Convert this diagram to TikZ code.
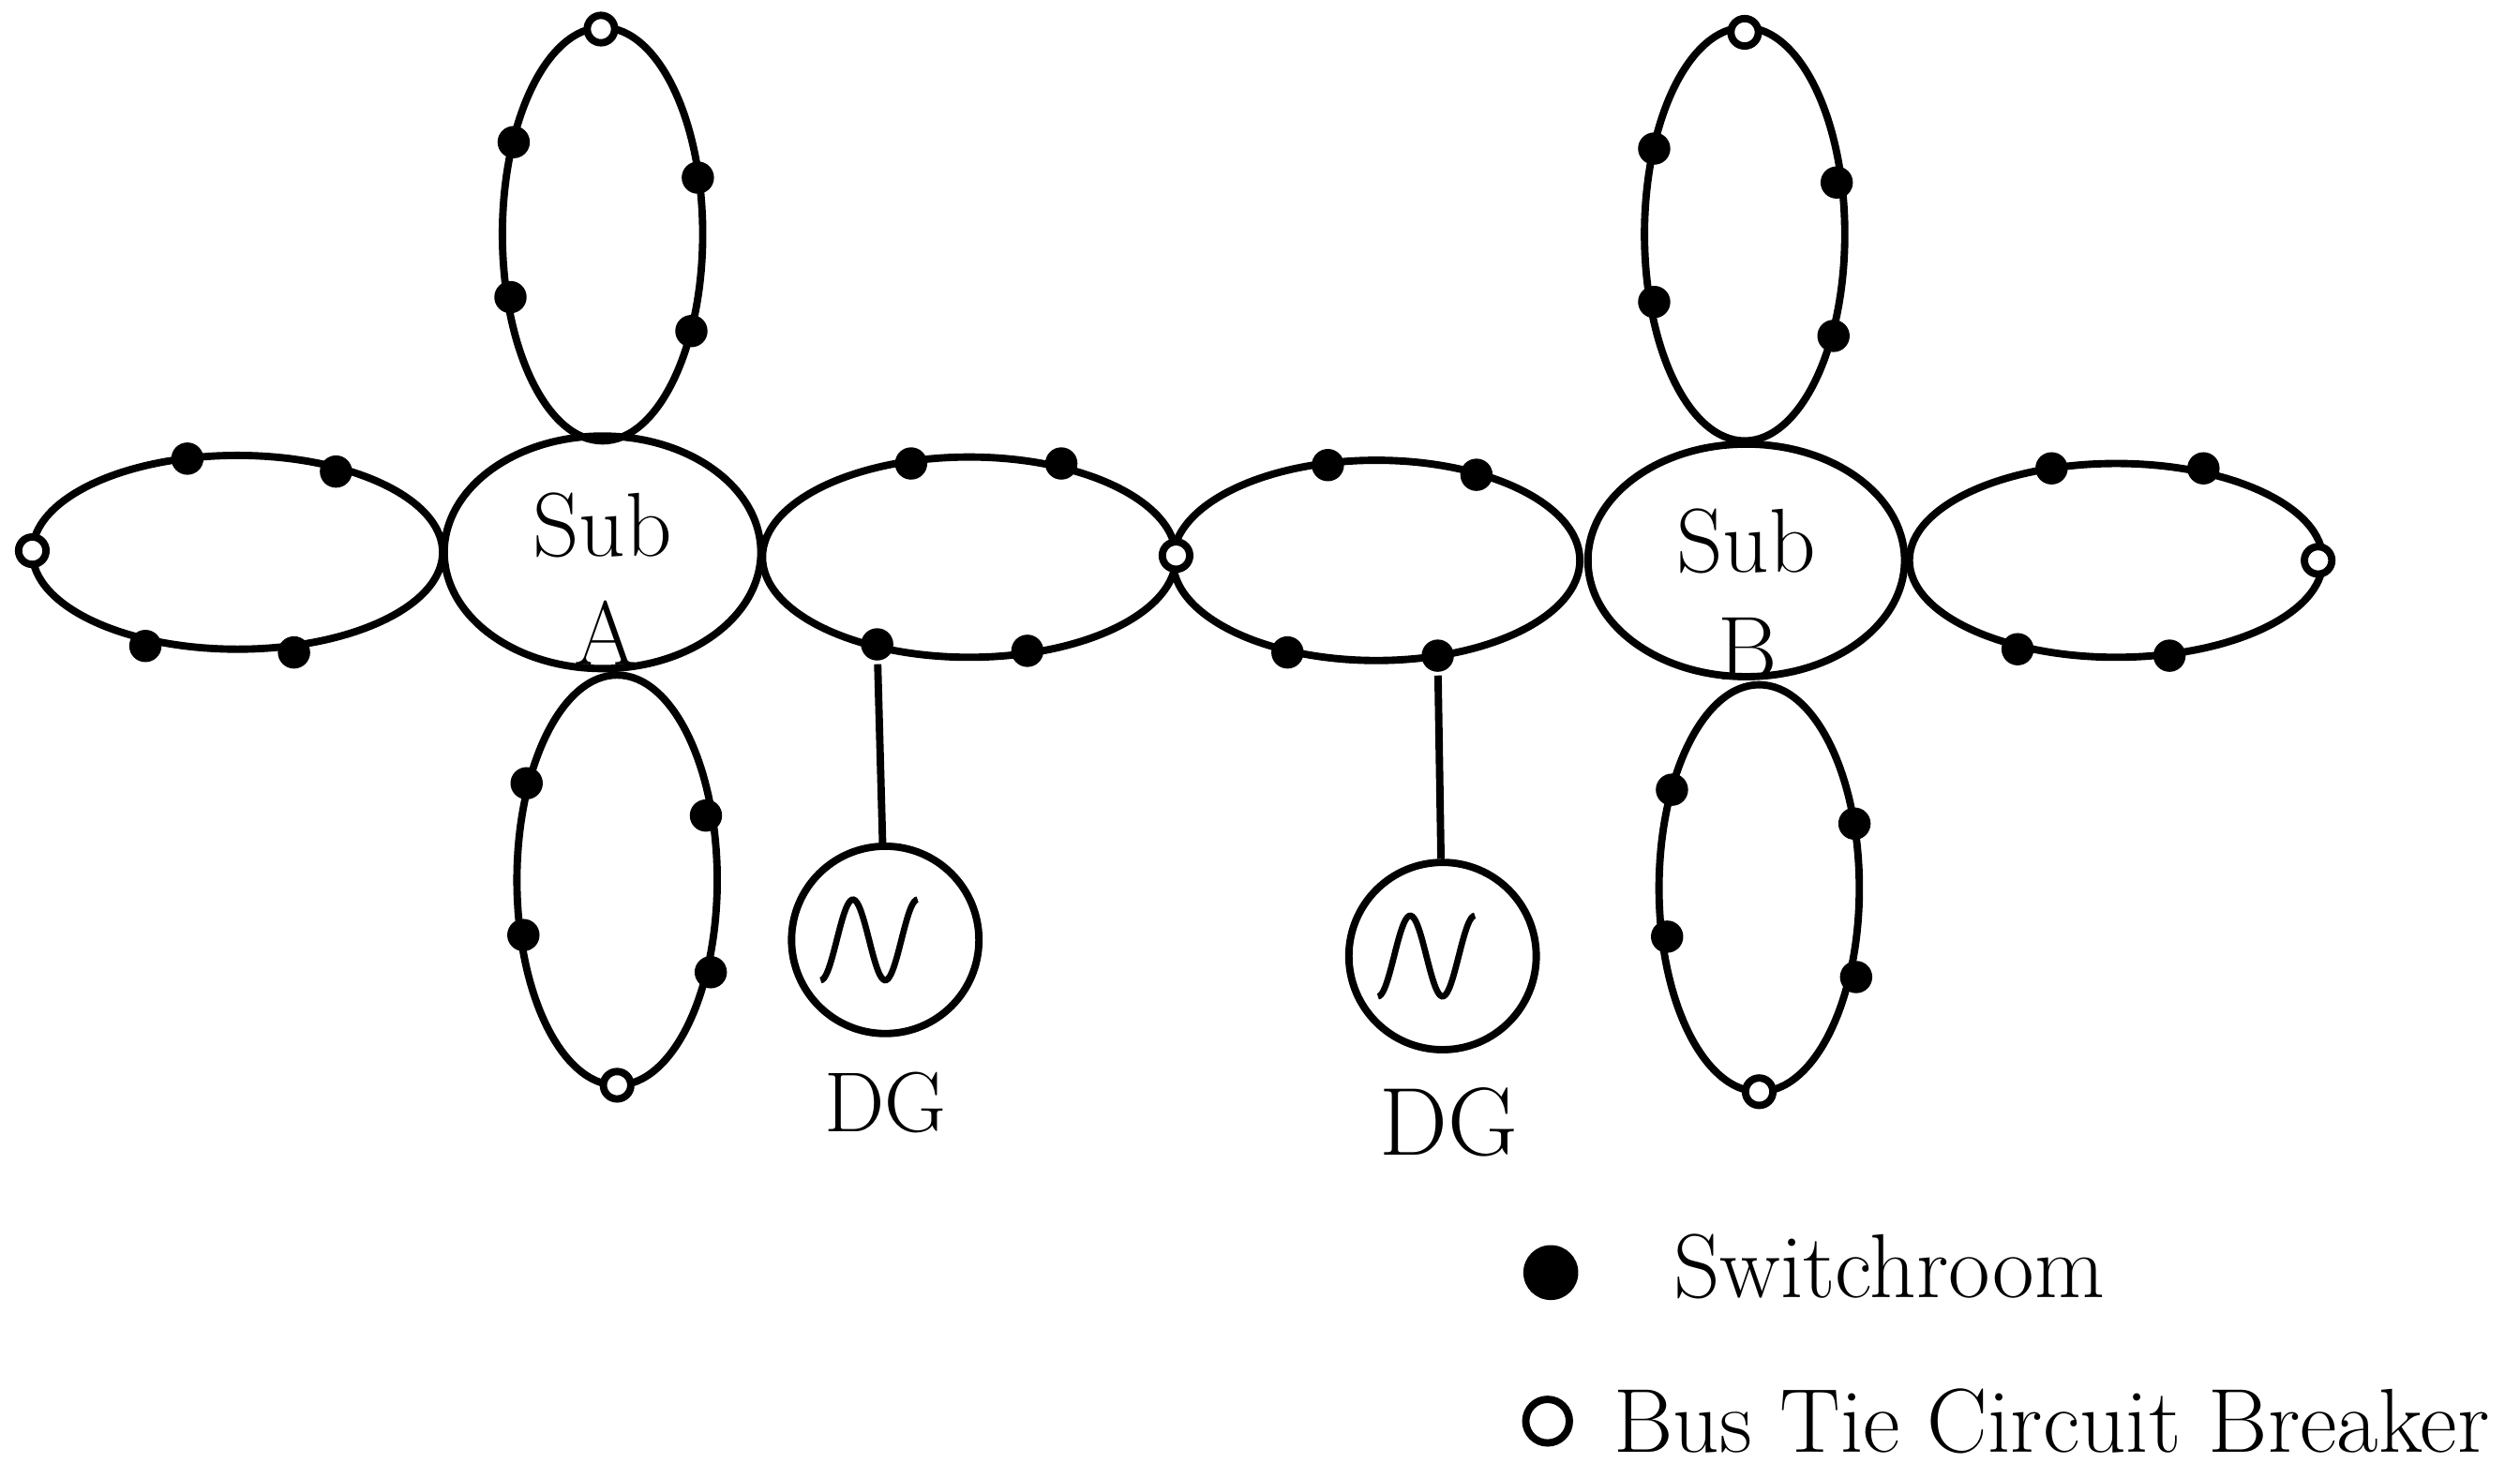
\documentclass[tikz,border=0pt]{standalone}
\usetikzlibrary{shapes.geometric}
\tikzset{
  ring/.style={shape=ellipse,draw,line width=1.3pt,inner sep=0pt},
  sw/.style={shape=circle,fill=black,inner sep=0pt,minimum size=0.2cm},
  bt/.style={shape=circle,draw,fill=white,line width=1.3pt,inner sep=0pt,minimum size=0.17cm},
  gen/.style={shape=circle,draw,line width=1.3pt,minimum size=1.16cm},
  lbl/.style={font=\fontsize{16}{18}\selectfont}
}
\begin{document}
\begin{tikzpicture}[line width=1.3pt]
    \useasboundingbox (0,0) rectangle (15.6,-9.15);
    % substations
    \node[ring,minimum width=1.96cm,minimum height=1.44cm] (subA) at (3.73,-3.42) {};
    \node[ring,minimum width=1.96cm,minimum height=1.44cm] (subB) at (10.81,-3.47) {};
    \node[lbl] (subAt) at (3.73,-3.25) {Sub};
    \node[lbl] (subAb) at (3.75,-3.92) {A};
    \node[lbl] (subBt) at (10.81,-3.35) {Sub};
    \node[lbl] (subBb) at (10.82,-4.02) {B};
    % feeder rings
    \node[ring,minimum width=2.54cm,minimum height=1.2cm]  (ringAL) at (1.47,-3.42) {};
    \node[ring,minimum width=1.24cm,minimum height=2.56cm] (ringAT) at (3.73,-1.45) {};
    \node[ring,minimum width=1.24cm,minimum height=2.54cm] (ringAB) at (3.82,-5.45) {};
    \node[ring,minimum width=2.56cm,minimum height=1.24cm] (ringM1) at (6.00,-3.45) {};
    \node[ring,minimum width=2.52cm,minimum height=1.24cm] (ringM2) at (8.52,-3.47) {};
    \node[ring,minimum width=1.24cm,minimum height=2.56cm] (ringBT) at (10.80,-1.45) {};
    \node[ring,minimum width=1.24cm,minimum height=2.52cm] (ringBB) at (10.89,-5.50) {};
    \node[ring,minimum width=2.56cm,minimum height=1.2cm]  (ringBR) at (13.10,-3.47) {};
    % generators
    \node[gen] (dg1) at (5.48,-5.82) {};
    \node[gen] (dg2) at (8.93,-5.92) {};
    \node[font=\fontsize{15}{17}\selectfont] (dg1l) at (5.48,-6.83) {DG};
    \node[font=\fontsize{17}{19}\selectfont] (dg2l) at (8.97,-6.95) {DG};
    \foreach \g in {dg1,dg2}
      \draw[line width=1.1pt,shift={(\g.center)}]
        plot[domain=-90:450,samples=60,smooth] ({-0.3+\x/540*0.6},{0.25*sin(\x)});
    % switchrooms
    \foreach \x/\y [count=\i] in {1.16/2.84,2.08/2.92,0.90/4.00,1.82/4.04,
        3.18/0.88,4.32/1.10,3.16/1.84,4.28/2.05,
        3.26/4.85,4.37/5.05,3.24/5.79,4.40/6.02,
        5.64/2.87,6.57/2.87,5.43/3.99,6.36/4.03,
        8.22/2.88,9.14/2.94,7.97/4.04,8.90/4.06,
        10.24/0.92,11.37/1.13,10.24/1.87,11.35/2.08,
        10.35/4.89,11.48/5.10,10.32/5.80,11.49/6.05,
        12.70/2.90,13.64/2.90,12.49/4.02,13.43/4.06}
      \node[sw] (s\i) at (\x,-\y) {};
    \draw (s15) -- (dg1);
    \draw (s20) -- (dg2);
    % bus ties
    \foreach \x/\y [count=\i] in {0.20/3.41,3.72/0.18,3.82/6.72,7.28/3.44,
        10.80/0.20,10.89/6.76,14.35/3.47}
      \node[bt] (b\i) at (\x,-\y) {};
    % legend
    \node[sw,minimum size=0.34cm] (legsw) at (9.60,-7.88) {};
    \node[lbl,anchor=west] (legswt) at (10.22,-7.84) {Switchroom};
    \node[bt,minimum size=0.27cm] (legbt) at (9.58,-8.80) {};
    \node[lbl,anchor=west] (legbtt) at (9.85,-8.80) {Bus Tie Circuit Breaker};
\end{tikzpicture}
\end{document}
